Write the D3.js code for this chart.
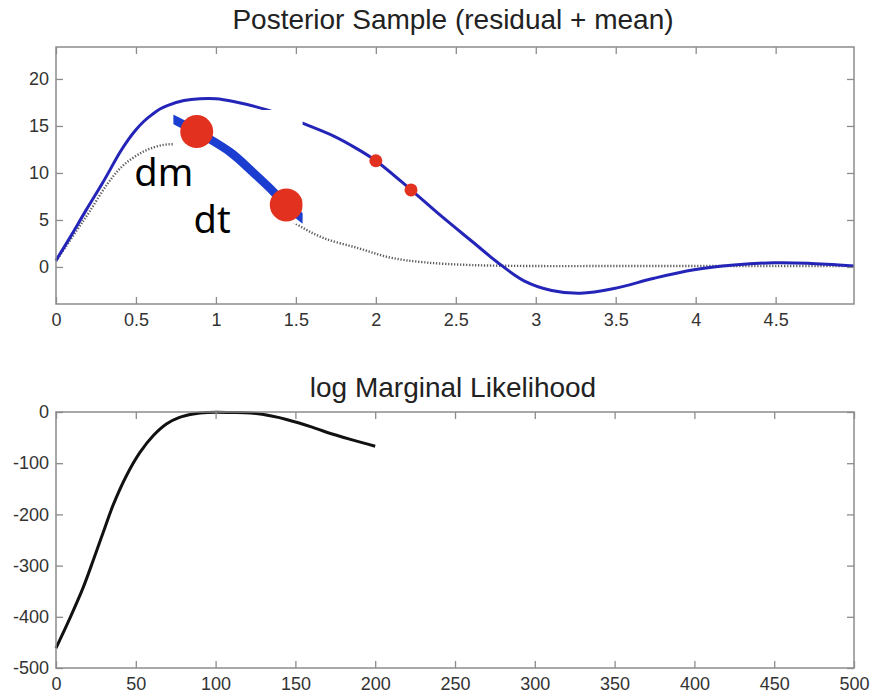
<!DOCTYPE html>
<html><head><meta charset="utf-8">
<script src="https://cdn.jsdelivr.net/npm/d3@7"></script>
<style>body{margin:0;background:#fff} svg{display:block}</style>
</head><body><svg id="c" width="878" height="698"></svg>
<script>
// ---- data: posterior sample (residual + mean) ----
const sampleT = [0, 0.09, 0.19, 0.29, 0.4, 0.45, 0.5, 0.55, 0.6, 0.65, 0.7, 0.8, 0.9, 1.0, 1.11, 1.32, 1.54, 1.74, 1.87, 2.0, 2.22, 2.41, 2.61, 2.76, 2.93, 3.1, 3.28, 3.49, 3.74, 3.99, 4.24, 4.49, 4.7, 4.99];
const sampleV = [0.7, 3.2, 6.1, 8.9, 12.2, 13.5, 14.6, 15.5, 16.2, 16.8, 17.2, 17.7, 17.9, 17.9, 17.6, 16.7, 15.3, 13.9, 12.7, 11.3, 8.2, 5.4, 2.6, 0.5, -1.5, -2.5, -2.8, -2.3, -1.2, -0.3, 0.2, 0.45, 0.4, 0.1];
const meanT = [0, 0.13, 0.21, 0.32, 0.42, 0.55, 0.68, 0.8, 1.0, 1.2, 1.35, 1.51, 1.67, 1.89, 2.09, 2.3, 2.6, 3.0, 3.5, 4.0, 4.5, 4.99];
const meanV = [0.6, 3.9, 5.9, 8.8, 10.8, 12.3, 13.0, 12.9, 11.3, 8.6, 6.4, 4.5, 3.1, 2.0, 1.0, 0.5, 0.2, 0.1, 0.1, 0.1, 0.1, 0.1];
const markerT = [2.0, 2.22];
const markerV = [11.3, 8.2];
const topXTicks = [0, 0.5, 1, 1.5, 2, 2.5, 3, 3.5, 4, 4.5];
const topYTicks = [0, 5, 10, 15, 20];
// inset (zoomed segment) in data units
const insetT = [0.7, 0.745, 0.88, 1.09, 1.23, 1.33, 1.44, 1.6];
const insetV = [16.0, 15.6, 14.4, 12.2, 10.1, 8.5, 6.6, 4.4];
const insetDotT = [0.88, 1.44];
const insetDotV = [14.4, 6.6];
const insetBoxT = [0.734, 1.542];
const insetBoxV = [4.6, 16.7];
const labelText = ["dm", "dt"];
const labelT = [0.49, 0.86];
const labelV = [8.6, 3.6];
// ---- data: log marginal likelihood ----
const lmlIter = [0, 8.8, 17, 23.4, 29.6, 35.9, 44.2, 52.6, 61, 69.4, 77, 86, 95, 110, 122, 135, 145, 160, 170, 185, 200];
const lmlValue = [-461, -402, -343, -289, -235, -181, -124, -79, -46, -23, -11, -4, -1, -1, -2, -8, -15, -29, -40, -54, -67];
const botXTicks = [0, 50, 100, 150, 200, 250, 300, 350, 400, 450, 500];
const botYTicks = [-500, -400, -300, -200, -100, 0];

const svg = d3.select("#c");
const L = 56, R = 854;
const frameColor = "#8c8c8c", labelColor = "#333";
const font = "'Liberation Sans', Arial, sans-serif";
const fmt = d => String(d);

function frame(g, x, y, top, bottom, xticks, yticks) {
  const ax = g.append("g");
  const mk = (sel) => { sel.select(".domain").remove();
    sel.selectAll("line").attr("stroke", frameColor).attr("stroke-width", 1.3);
    sel.selectAll("text").attr("fill", labelColor).style("font-family", font).style("font-size", "18px"); };
  ax.append("g").attr("transform", `translate(0,${bottom})`)
    .call(d3.axisBottom(x).tickValues(xticks).tickSize(-7).tickPadding(9).tickFormat(fmt)).call(mk);
  ax.append("g").attr("transform", `translate(0,${top})`)
    .call(d3.axisTop(x).tickValues(xticks).tickSize(-7).tickFormat("")).call(mk);
  ax.append("g").attr("transform", `translate(${L},0)`)
    .call(d3.axisLeft(y).tickValues(yticks).tickSize(-7).tickPadding(7).tickFormat(fmt)).call(mk);
  ax.append("g").attr("transform", `translate(${R},0)`)
    .call(d3.axisRight(y).tickValues(yticks).tickSize(-7).tickFormat("")).call(mk);
  g.append("rect").attr("x", L).attr("y", top).attr("width", R - L).attr("height", bottom - top)
    .attr("fill", "none").attr("stroke", frameColor).attr("stroke-width", 1.5);
}

// ---------- top panel ----------
const T1 = 47, B1 = 304;
const x1 = d3.scaleLinear().domain([0, 4.99]).range([L, R]);
const y1 = d3.scaleLinear().domain([-3.94, 23.4]).range([B1, T1]);
const g1 = svg.append("g");
const line1 = d3.line().x(d => x1(d[0])).y(d => y1(d[1])).curve(d3.curveCatmullRom.alpha(0.5));
g1.append("path").datum(meanT.map((t, i) => [t, meanV[i]])).attr("d", line1)
  .attr("fill", "none").attr("stroke", "#5e5e5e").attr("stroke-width", 2.4).attr("stroke-dasharray", "1.3,1.7");
g1.append("path").datum(sampleT.map((t, i) => [t, sampleV[i]])).attr("d", line1)
  .attr("fill", "none").attr("stroke", "#2424b8").attr("stroke-width", 3);
g1.selectAll("circle.m").data(markerT.map((t, i) => [t, markerV[i]])).enter().append("circle")
  .attr("cx", d => x1(d[0])).attr("cy", d => y1(d[1])).attr("r", 6.5).attr("fill", "#e2321f");
frame(g1, x1, y1, T1, B1, topXTicks, topYTicks);

// inset box
const bx = x1(insetBoxT[0]), bw = x1(insetBoxT[1]) - bx;
const by = y1(insetBoxV[1]), bh = y1(insetBoxV[0]) - by;
svg.append("defs").append("clipPath").attr("id", "ic").append("rect")
  .attr("x", bx).attr("y", by).attr("width", bw).attr("height", bh);
svg.append("rect").attr("x", bx).attr("y", by).attr("width", bw).attr("height", bh).attr("fill", "#fff");
const gi = svg.append("g").attr("clip-path", "url(#ic)");
gi.append("path").datum(insetT.map((t, i) => [t, insetV[i]]))
  .attr("d", d3.line().x(d => x1(d[0])).y(d => y1(d[1])).curve(d3.curveCatmullRom))
  .attr("fill", "none").attr("stroke", "#1c3ed0").attr("stroke-width", 8.5).attr("stroke-linecap", "round");
gi.selectAll("circle").data(insetDotT.map((t, i) => [t, insetDotV[i]])).enter().append("circle")
  .attr("cx", d => x1(d[0])).attr("cy", d => y1(d[1])).attr("r", 16.5).attr("fill", "#e2321f");
svg.selectAll("text.lab").data(labelText).enter().append("text").attr("class", "lab")
  .attr("x", (d, i) => x1(labelT[i])).attr("y", (d, i) => y1(labelV[i]))
  .style("font-family", "'Noto Sans', 'Open Sans', sans-serif").style("font-size", "38px").attr("fill", "#000")
  .text(d => d);

svg.append("text").attr("x", 453).attr("y", 29).attr("text-anchor", "middle")
  .style("font-family", font).style("font-size", "28px").attr("fill", "#222")
  .text("Posterior Sample (residual + mean)");

// ---------- bottom panel ----------
const T2 = 412, B2 = 668;
const x2 = d3.scaleLinear().domain([0, 500]).range([L, R]);
const y2 = d3.scaleLinear().domain([-500, 0]).range([B2, T2]);
const g2 = svg.append("g");
g2.append("path").datum(lmlIter.map((t, i) => [t, lmlValue[i]]))
  .attr("d", d3.line().x(d => x2(d[0])).y(d => y2(d[1])).curve(d3.curveCatmullRom.alpha(0.5)))
  .attr("fill", "none").attr("stroke", "#111").attr("stroke-width", 3);
frame(g2, x2, y2, T2, B2, botXTicks, botYTicks);
svg.append("text").attr("x", 453).attr("y", 397).attr("text-anchor", "middle")
  .style("font-family", font).style("font-size", "28px").attr("fill", "#222")
  .text("log Marginal Likelihood");
</script></body></html>
